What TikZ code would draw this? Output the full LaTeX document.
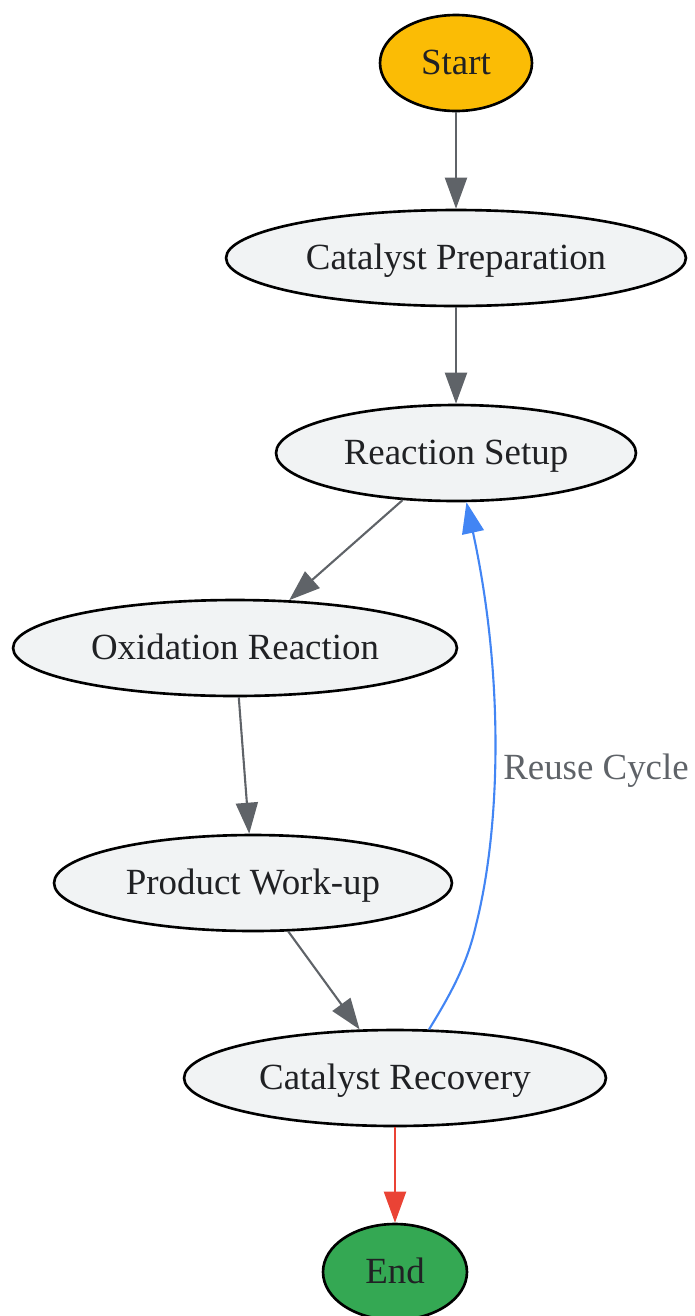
\documentclass[tikz,border=0pt]{standalone}
\usepackage{fontspec}
\setmainfont{Liberation Serif}
\usetikzlibrary{shapes.geometric,arrows.meta}
\definecolor{paso}{HTML}{F1F3F4}
\definecolor{texto}{HTML}{202124}
\definecolor{gris}{HTML}{5F6368}
\definecolor{inicio}{HTML}{FBBC05}
\definecolor{fin}{HTML}{34A853}
\definecolor{rojo}{HTML}{EA4335}
\definecolor{azul}{HTML}{4285F4}
\begin{document}
\begin{tikzpicture}[x=0.02cm,y=0.02cm,
  etapa/.style={ellipse,draw=black,line width=1.5pt,fill=paso,text=texto,
    minimum height=1.92cm,inner sep=0pt,text height=15pt,text depth=2pt,
    font=\fontsize{21}{25}\selectfont},
  flecha/.style={draw=gris,line width=1.2pt,-{Triangle[length=0.62cm,width=0.44cm]}}]
%
\useasboundingbox (0,0) rectangle (695,-1316);
%
% etapas, de arriba abajo
\node[etapa,fill=inicio,minimum width=3.04cm] (1) at (456,-63) {Start};
\node[etapa,minimum width=9.2cm] (2) at (456,-258) {Catalyst Preparation};
\node[etapa,minimum width=7.2cm] (3) at (456,-453) {Reaction Setup};
\node[etapa,minimum width=8.88cm] (4) at (235,-648) {Oxidation Reaction};
\node[etapa,minimum width=7.96cm] (5) at (253,-883) {Product Work-up};
\node[etapa,minimum width=8.44cm] (6) at (395,-1078) {Catalyst Recovery};
\node[etapa,fill=fin,minimum width=2.88cm] (7) at (395,-1272) {End};
\node[text=gris,font=\fontsize{21}{25}\selectfont] (8) at (596,-771) {Reuse Cycle};
%
\draw[flecha] (1) -- (2);
\draw[flecha] (2) -- (3);
\draw[flecha] (3) -- (4);
\draw[flecha] (4) -- (5);
\draw[flecha] (5) -- (6);
\draw[flecha,draw=rojo] (6) -- (7);
% vuelta del catalizador
\draw[flecha,draw=azul] (6.55) .. controls (450,-995) and (467,-965) .. (476,-925)
  .. controls (500,-830) and (505,-680) .. (3.-78);
%
\end{tikzpicture}
\end{document}
